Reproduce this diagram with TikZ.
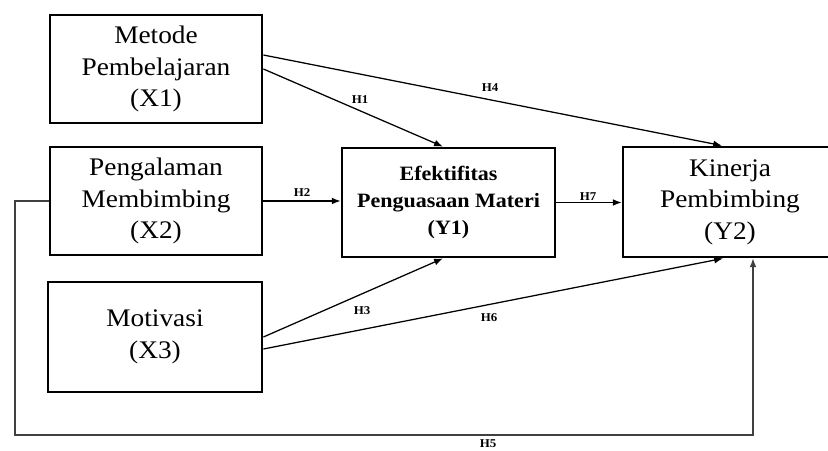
\documentclass[tikz,border=0pt]{standalone}
\usepackage{fontspec}
\setmainfont[FakeStretch=1.08]{Liberation Serif}
\usetikzlibrary{arrows.meta}

\begin{document}
\begin{tikzpicture}[line width=0.9pt,
  varbox/.style={draw,line width=2pt,minimum width=5.3cm,minimum height=2.7cm,align=center,font=\fontsize{18}{22.5}\selectfont},
  hyp/.style={font=\fontsize{8.5}{9}\selectfont\bfseries,inner sep=1pt},
  link/.style={-{Latex[length=2.2mm,width=1.7mm]}}]
\useasboundingbox (0,0) rectangle (20.7,-11.25);
\node[varbox] (X1) at (3.9,-1.725) {Metode\\Pembelajaran\\(X1)};
\node[varbox] (X2) at (3.9,-5.025) {Pengalaman\\Membimbing\\(X2)};
\node[varbox,minimum width=5.35cm,minimum height=2.75cm] (X3) at (3.875,-8.425) {Motivasi\\(X3)};
\node[varbox,minimum width=5.325cm,minimum height=2.725cm,font=\fontsize{14.5}{19.5}\selectfont\bfseries] (Y1) at (11.2125,-5.0625) {Efektifitas\\Penguasaan Materi\\(Y1)};
\node[varbox,minimum width=5.35cm,minimum height=2.75cm] (Y2) at (18.25,-5.05) {Kinerja\\Pembimbing\\(Y2)};
% hypothesis paths
\draw[link] (X1.east) -- ([xshift=-0.14cm]Y1.north);
\draw[link] ([yshift=0.35cm]X1.east) -- ([xshift=-0.2cm]Y2.north);
\draw[link] (X2.east) -- (X2.east -| Y1.west);
\draw[link] (Y1.east) -- (Y1.east -| Y2.west);
\draw[link] (X3.east) -- ([xshift=-0.14cm]Y1.south);
\draw[link] ([yshift=-0.3cm]X3.east) -- ([xshift=-0.175cm]Y2.south);
\coordinate (h5a) at (0.375,-10.875);
\coordinate (h5b) at ([xshift=0.575cm]Y2.south);
\draw[link,line width=0.8pt,draw=black!75] (X2.west) -| (h5a) -| (h5b);
\node[hyp] (lH1) at (9.0,-2.5) {H1};
\node[hyp] (lH4) at (12.25,-2.2) {H4};
\node[hyp] (lH2) at (7.55,-4.825) {H2};
\node[hyp] (lH7) at (14.7,-4.925) {H7};
\node[hyp] (lH3) at (9.05,-7.775) {H3};
\node[hyp] (lH6) at (12.225,-7.95) {H6};
\node[hyp] (lH5) at (12.2,-11.1) {H5};
\end{tikzpicture}
\end{document}
